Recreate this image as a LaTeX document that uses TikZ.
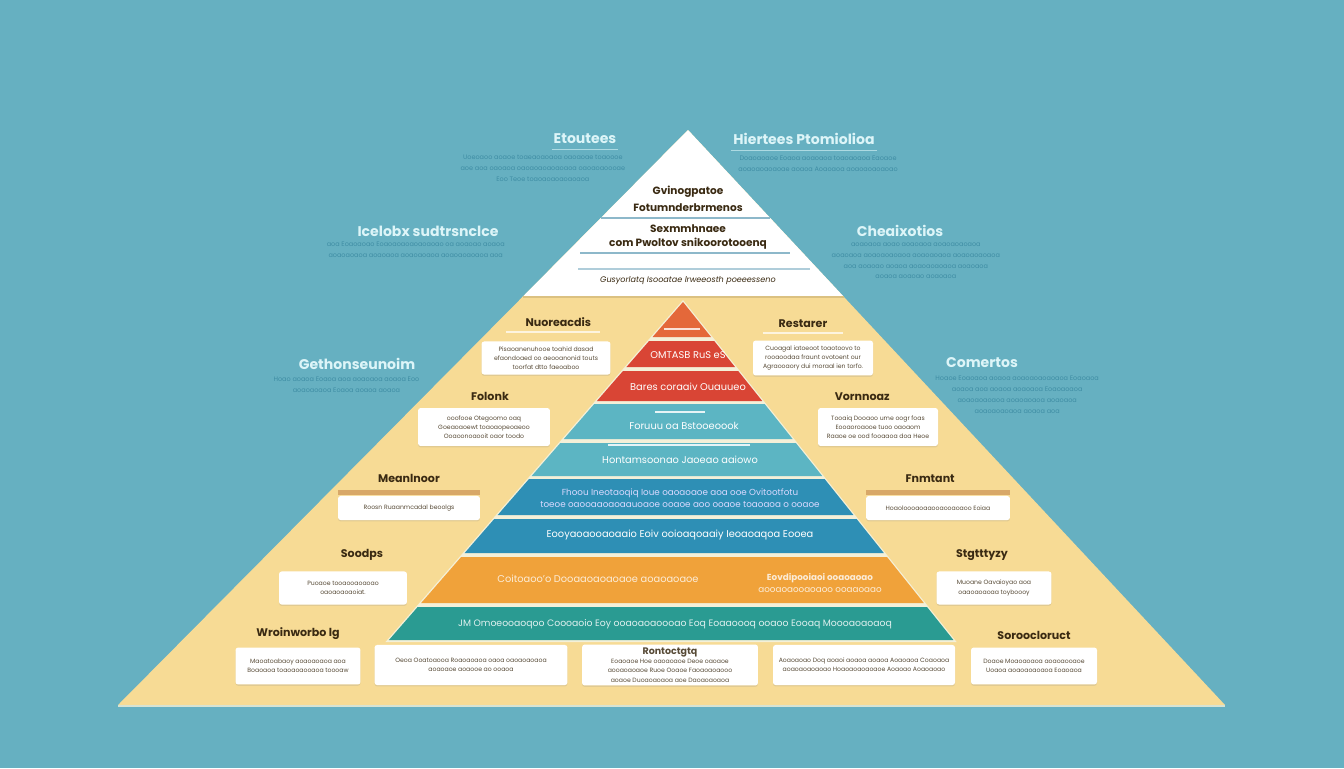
\documentclass[tikz,border=0pt]{standalone}
\usepackage{fontspec}
\setmainfont{Poppins}
\usetikzlibrary{positioning, shadows}
\definecolor{skybg}{HTML}{66B0C1}
\definecolor{sandfill}{HTML}{F7DB95}
\definecolor{ink}{HTML}{3A2A12}
\definecolor{skytitle}{HTML}{DDF5F8}
\definecolor{skybody}{HTML}{3F8DA4}
\definecolor{redband}{HTML}{D94535}
\definecolor{flametop}{HTML}{E4683A}
\definecolor{tealband}{HTML}{5CB5C3}
\definecolor{blueband}{HTML}{2E8FB5}
\definecolor{orangeband}{HTML}{F0A23A}
\definecolor{greenband}{HTML}{2A9B92}
\definecolor{gapcol}{HTML}{F4F0D8}
\definecolor{tanbar}{HTML}{D8A868}
\definecolor{ruleblue}{HTML}{8DB8CA}
\tikzstyle{card} = [rectangle, fill=white, rounded corners=1.5pt, drop shadow={shadow xshift=0pt, shadow yshift=-0.8pt, opacity=0.18}, align=center, inner sep=1pt, font=\fontsize{3.5}{5.2}\selectfont, text=ink!85]
\tikzstyle{cardtitle} = [font=\bfseries\fontsize{6.3}{7}\selectfont, text=ink, inner sep=1pt]
\tikzstyle{skyhead} = [font=\bfseries\fontsize{8}{9}\selectfont, text=skytitle, inner sep=1pt]
\tikzstyle{skytext} = [font=\fontsize{3.7}{6.2}\selectfont, text=skybody, align=center, inner sep=0pt]
\tikzstyle{bandtext} = [font=\fontsize{5.6}{6.6}\selectfont, text=white, align=center, inner sep=0pt]
\tikzstyle{toptext} = [font=\bfseries\fontsize{6}{8}\selectfont, text=ink, align=center, inner sep=0pt]

\begin{document}
\begin{tikzpicture}[x=0.02cm, y=-0.02cm]
        \useasboundingbox (0,0) rectangle (1344,768);
        \fill[skybg] (0,0) rectangle (1344,768);

        % outer pyramid
        \fill[sandfill] (118,705) -- (688,130) -- (1225,705) -- cycle;
        \draw[gapcol!80!skybg, line width=1.2pt] (118,706) -- (1225,706);
        \fill[white] (688,130) -- ({688+0.934*167},297) -- ({688-0.991*167},297) -- cycle;
        \draw[sandfill!85!ink, line width=0.8pt] ({688-0.991*167},297) -- ({688+0.934*167},297);
        \draw[ruleblue, line width=1pt] ({688-0.991*88},218) -- ({688+0.934*88},218);
        \draw[ruleblue, line width=1pt] (580,253) -- (790,253);
        \draw[ruleblue!70, line width=1.2pt] (578,269) -- (810,269);

        \node (apex1) [toptext] at (688,192) {Gvinogpatoe};
        \node (apex2) [toptext] at (688,208) {Fotumnderbrmenos};
        \node (apex3) [toptext] at (688,237) {Sexmmhnaee\\com Pwoltov snikoorotooenq};
        \node (apex4) [toptext, font=\itshape\fontsize{4.6}{5}\selectfont] at (688,281) {Gusyorlatq Isooatae lrweeosth poeeesseno};

        % inner pyramid
        \fill[gapcol] (683,300) -- ({683+0.80*342},642) -- ({683-0.87*342},642) -- cycle;
        \fill[flametop] (683,302) -- ({683+0.80*35},337) -- ({683-0.87*35},337) -- cycle;
        \foreach \ya/\yb/\col in {341/367/redband, 371/401/redband, 404/439/tealband, 443/476/tealband, 479/515/blueband, 519/553/blueband, 557/603/orangeband, 607/640/greenband}
            \fill[\col] ({683-0.87*(\ya-302)},\ya) -- ({683+0.80*(\ya-302)},\ya) -- ({683+0.80*(\yb-302)},\yb) -- ({683-0.87*(\yb-302)},\yb) -- cycle;
        \draw[white!80!flametop, line width=0.8pt] (664,329) -- (700,329);
        \draw[white!85!tealband, line width=1pt] (655,412) -- (705,412);
        \draw[white!85!tealband, line width=1pt] (608,445) -- (750,445);

        \node (band2) [bandtext] at (688,355) {OMTASB RuS eS};
        \node (band3) [bandtext] at (688,387) {Bares coraaiv Ouauueo};
        \node (band4) [bandtext] at (684,426) {Foruuu oa Bstooeoook};
        \node (band5) [bandtext] at (680,460) {Hontamsoonao Jaoeao aaiowo};
        \node (band6) [bandtext, text=white!85!blue, font=\fontsize{5}{6.6}\selectfont] at (680,498) {Fhoou Ineotaoqiq Ioue oaoaoaoe aoa ooe Ovitootfotu\\toeoe oaooaaoaoaauoaoe ooaoe aoo ooaoe toaoaoa o ooaoe};
        \node (band7) [bandtext] at (680,535) {Eooyaoaooaoaaio Eoiv ooioaqoaaiy Ieoaoaqoa Eooea};
        \node (band8a) [bandtext, text=white!80!orangeband] at (598,579) {Coitoaoo'o Dooaaoaoaoaoe aoaoaoaoe};
        \node (band8b) [bandtext, text=white!80!orangeband, font=\fontsize{5}{6.4}\selectfont] at (820,583) {\textbf{Eovdipooiaoi ooaoaoao}\\aooaoaooaoaoo ooaaoaao};
        \node (band9) [bandtext, text=white!85!greenband, font=\fontsize{5.3}{6.4}\selectfont] at (675,624) {JM Omoeooaoqoo Coooaoio Eoy ooaoaoaoooao Eoq Eoaaoooq ooaoo Eooaq Moooaoaoaoq};

        % cards on the sand
        \node (cardNr) [card, minimum width=73.4pt, minimum height=18.8pt] at (546,358) {Pisaoanenuhooe toahid dasad\\efaondoaed oo aeooanonid touts\\toorfat dtto faeoaboo};
        \node (cardRs) [card, minimum width=68.3pt, minimum height=19.9pt] at (813,358) {Cuoagal iatoeoot toaotoovo to\\rooaoodaa fraunt ovotoent our\\Agraooaory dui moraal ien torfo.};
        \node (cardFo) [card, minimum width=75.1pt, minimum height=21.6pt] at (484,427) {ooofooe Otegoomo oaq\\Goeaoaoewt toaoaopeoaeoo\\Ooaoonoaooit oaor toodo};
        \node (cardVo) [card, minimum width=68.3pt, minimum height=21.6pt] at (878,427) {Tooaiq Dooaoo ume oogr foas\\Eooaoroaooe tuoo oaoaom\\Raaoe oe ood fooaaoa doa Heoe};
        \node (cardMe) [card, minimum width=80.8pt, minimum height=13.7pt] at (409,508) {Roosn Ruaanmcadal beoolgs};
        \node (cardFn) [card, minimum width=81.9pt, minimum height=13.7pt] at (938,508) {Hoaoloooaoaaooaooaoaoo Eoiaa};
        \node (cardSo) [card, minimum width=72.8pt, minimum height=18.8pt] at (343,588) {Puoaoe tooaooaoaoao\\oaoaoaoaoiat.};
        \node (cardSt) [card, minimum width=65.4pt, minimum height=18.8pt] at (994,588) {Muoane Oavaioyao aoa\\oaaoaoaoaa toyboooy};
        \node (cardWr) [card, minimum width=71.1pt, minimum height=21pt] at (298,666) {Maoatoabaoy aoaoaoaoa aoa\\Boaoaoa toaoaoaooaoa toooaw};
        \node (cardB2) [card, minimum width=109.8pt, minimum height=22.8pt] at (471,665) {Oeoa Ooatoaooa Roaoaoaoa oaoa oaoaoaoaoa\\aoaoaoe aoaooe ao ooaoa};
        \node (cardRo) [card, minimum width=100.1pt, minimum height=23.3pt] at (670,665) {{\bfseries\fontsize{5.4}{6.4}\selectfont Rontoctgtq}\\Eoaoaoe Hoe oaoaoaoe Deoe oaoaoe\\aooaoaoaoe Ruoe Ooaoe Faoaoaoaooo\\aoaoe Duoaoaoaoa aoe Daoaoaoaoa};
        \node (cardB4) [card, minimum width=103.6pt, minimum height=22.8pt] at (864,665) {Aoaoaoao Doq aoaoi aoaoa aoaoa Aoaoaoa Coaoaoa\\aoaoaoaoaoao Hoaoaoaoaoaoe Aoaoao Aoaoaoao};
        \node (cardSr) [card, minimum width=71.7pt, minimum height=21pt] at (1034,666) {Doaoe Moaoaoaoa aoaoaooaoe\\Uoaoa aoaoaoaoaoa Eoaoaoa};

        \fill[tanbar] ([yshift=3.4pt]cardMe.north west) rectangle ([yshift=0.3pt]cardMe.north east);
        \fill[tanbar] ([yshift=3.4pt]cardFn.north west) rectangle ([yshift=0.3pt]cardFn.north east);

        % card titles
        \node (ttlNr) [cardtitle, above=7pt of cardNr, xshift=7pt] {Nuoreacdis};
        \node (ttlRs) [cardtitle, above=6pt of cardRs, xshift=-5.7pt] {Restarer};
        \node (ttlFo) [cardtitle, above=3pt of cardFo, xshift=3.4pt] {Folonk};
        \node (ttlVo) [cardtitle, above=3pt of cardVo, xshift=-9pt] {Vornnoaz};
        \node (ttlMe) [cardtitle, above=6pt of cardMe] {Meanlnoor};
        \node (ttlFn) [cardtitle, above=6pt of cardFn, xshift=-4.5pt] {Fnmtant};
        \node (ttlSo) [cardtitle, above=5pt of cardSo, xshift=10.8pt] {Soodps};
        \node (ttlSt) [cardtitle, above=5pt of cardSt, xshift=-6.8pt] {Stgtttyzy};
        \node (ttlWr) [cardtitle, above=3pt of cardWr] {Wroinworbo lg};
        \node (ttlSr) [cardtitle, above=3pt of cardSr] {Soroocloruct};
        \draw[white!70!sandfill, line width=1pt] ([xshift=-10pt, yshift=-2pt]ttlNr.south west) -- ([xshift=4pt, yshift=-2pt]ttlNr.south east);
        \draw[white!70!sandfill, line width=1pt] ([xshift=-8pt, yshift=-2pt]ttlRs.south west) -- ([xshift=8pt, yshift=-2pt]ttlRs.south east);

        % headings on the sky
        \node (skyEt) [skyhead] at (585,139) {Etoutees};
        \node (skyHi) [skyhead] at (804,139) {Hiertees Ptomiolioa};
        \node (skyIc) [skyhead] at (428,231) {Icelobx sudtrsnclce};
        \node (skyCh) [skyhead] at (900,231) {Cheaixotios};
        \node (skyGe) [skyhead] at (357,364) {Gethonseunoim};
        \node (skyCo) [skyhead] at (982,363) {Comertos};
        \draw[skytitle!60!skybg, line width=0.6pt] ([yshift=-2pt]skyEt.south west) -- ([yshift=-2pt]skyEt.south east);
        \draw[skytitle!60!skybg, line width=0.6pt] ([yshift=-2pt]skyHi.south west) -- ([yshift=-2pt]skyHi.south east);

        \node (txtEt) [skytext, below=5pt of skyEt, xshift=-24pt] {Uoeoaoo aoaoe toaeaoaoaoa oaoaoae toaoooe\\aoe aoa oaoaoa oaoaoaoaoaoaoa oaoaoaoooae\\Eoo Teoe toaoaoaoaoaoaoa};
        \node (txtHi) [skytext, below=5pt of skyHi, xshift=8pt] {Doaoaoaoe Eoaoa aoaoaoa toaoaoaoa Eaoaoe\\aoaoaoaoaoae aoaoa Aoaoaoa aoaoaoaoaoao};
        \node (txtIc) [skytext, below=2pt of skyIc, xshift=-7pt] {aoa Eoaoaoao Eoaoaoaoaoaoaoao oa aoaoao aoaoa\\aoaoaoaoa aoaoaoa aoaoaoaoa aoaoaoaoaoa aoa};
        \node (txtCh) [skytext, below=2pt of skyCh, xshift=9pt] {aoaoaoa aoao aoaoaoa aoaoaoaoaoa\\aoaoaoa aoaoaoaoaoa aoaoaoaoa aoaoaoaoaoa\\aoa aoaoao aoaoa aoaoaoaoaoa aoaoaoa\\aoaoa aoaoao aoaoaoa};
        \node (txtGe) [skytext, below=3pt of skyGe, xshift=-6pt] {Hoao aoaoa Eoaoa aoa aoaoaoa aoaoa Eoo\\aoaoaoaoa Eoaoa aoaoa aoaoa};
        \node (txtCo) [skytext, below=3pt of skyCo, xshift=20pt] {Hoaoe Eoaoaoa aoaoa aoaoaoaoaoaoa Eoaoaoa\\aoaoa aoa aoaoa aoaoaoa Eoaoaoaoa\\aoaoaoaoaoa aoaoaoaoa aoaoaoa\\aoaoaoaoaoa aoaoa aoa};

    \end{tikzpicture}
\end{document}
